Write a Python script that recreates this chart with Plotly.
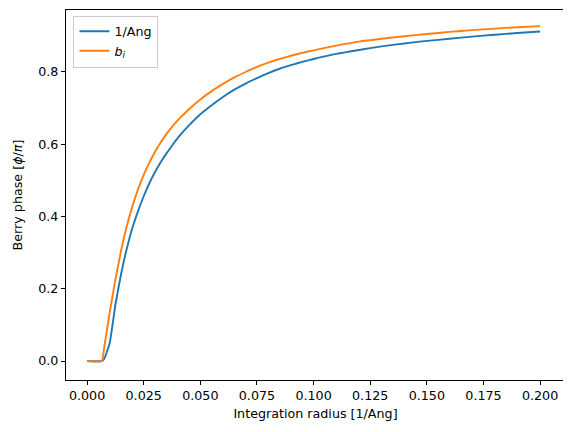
import plotly.graph_objects as go

# Integration radius [1/Ang]
radius = [0.0, 0.0065, 0.0075, 0.0100, 0.0125, 0.0150, 0.0175, 0.0200, 0.0225, 0.0250,
          0.0275, 0.0300, 0.0325, 0.0350, 0.0375, 0.0400, 0.045, 0.050, 0.055, 0.060,
          0.065, 0.070, 0.075, 0.080, 0.085, 0.090, 0.095, 0.100, 0.110, 0.120,
          0.130, 0.140, 0.150, 0.160, 0.170, 0.180, 0.190, 0.200]

# Berry phase / pi, units 1/Ang
phase_ang = [0.0, 0.0, 0.005, 0.05, 0.155, 0.24, 0.31, 0.368, 0.415, 0.456,
             0.492, 0.523, 0.55, 0.574, 0.596, 0.617, 0.652, 0.683, 0.708, 0.731,
             0.751, 0.768, 0.783, 0.797, 0.809, 0.819, 0.828, 0.836, 0.850, 0.861,
             0.871, 0.879, 0.886, 0.892, 0.898, 0.903, 0.908, 0.912]

# Berry phase / pi, units b_i
phase_bi = [0.0, 0.0, 0.035, 0.135, 0.225, 0.305, 0.372, 0.428, 0.475, 0.515,
            0.549, 0.579, 0.605, 0.628, 0.648, 0.666, 0.697, 0.724, 0.747, 0.767,
            0.785, 0.800, 0.814, 0.826, 0.836, 0.845, 0.853, 0.860, 0.873, 0.884,
            0.892, 0.899, 0.905, 0.911, 0.916, 0.920, 0.924, 0.927]

colors = ['#1f77b4', '#ff7f0e']

fig = go.Figure()
fig.add_trace(go.Scatter(x=radius, y=phase_ang, mode='lines', name='1/Ang',
                         line=dict(color=colors[0], width=1.9, shape='spline', smoothing=0.5)))
fig.add_trace(go.Scatter(x=radius, y=phase_bi, mode='lines', name='<i>b<sub>i</sub></i>',
                         line=dict(color=colors[1], width=1.9, shape='spline', smoothing=0.5)))

axis_style = dict(showline=True, linecolor='black', linewidth=1, mirror=True,
                  ticks='outside', ticklen=4, tickcolor='black', showgrid=False,
                  zeroline=False, automargin=False,
                  tickfont=dict(size=12.7, color='black'))

fig.update_xaxes(range=[-0.0093, 0.211], tickmode='array',
                 tickvals=[0, 0.025, 0.05, 0.075, 0.1, 0.125, 0.15, 0.175, 0.2],
                 tickformat='.3f',
                 title=dict(text='Integration radius [1/Ang]', font=dict(size=12.7, color='black'),
                            standoff=6),
                 **axis_style)
fig.update_yaxes(range=[-0.0526, 0.9716], tickmode='array',
                 tickvals=[0, 0.2, 0.4, 0.6, 0.8], tickformat='.1f',
                 title=dict(text='Berry phase [<i>ϕ</i>/<i>π</i>]', font=dict(size=12.7, color='black'),
                            standoff=12),
                 **axis_style)

# the page body has an 8px margin, so the figure is drawn 8px smaller
fig.update_layout(
    width=563, height=424,
    margin=dict(l=58, r=6, t=2, b=52),
    plot_bgcolor='white', paper_bgcolor='white',
    font=dict(family='DejaVu Sans', size=12.7, color='black'),
    showlegend=True,
    legend=dict(x=0.015, y=0.985, xanchor='left', yanchor='top',
                bgcolor='rgba(255,255,255,0.8)', bordercolor='#cccccc', borderwidth=1,
                font=dict(size=12.7), itemwidth=30, tracegroupgap=2),
)

fig.write_html("out.html")
